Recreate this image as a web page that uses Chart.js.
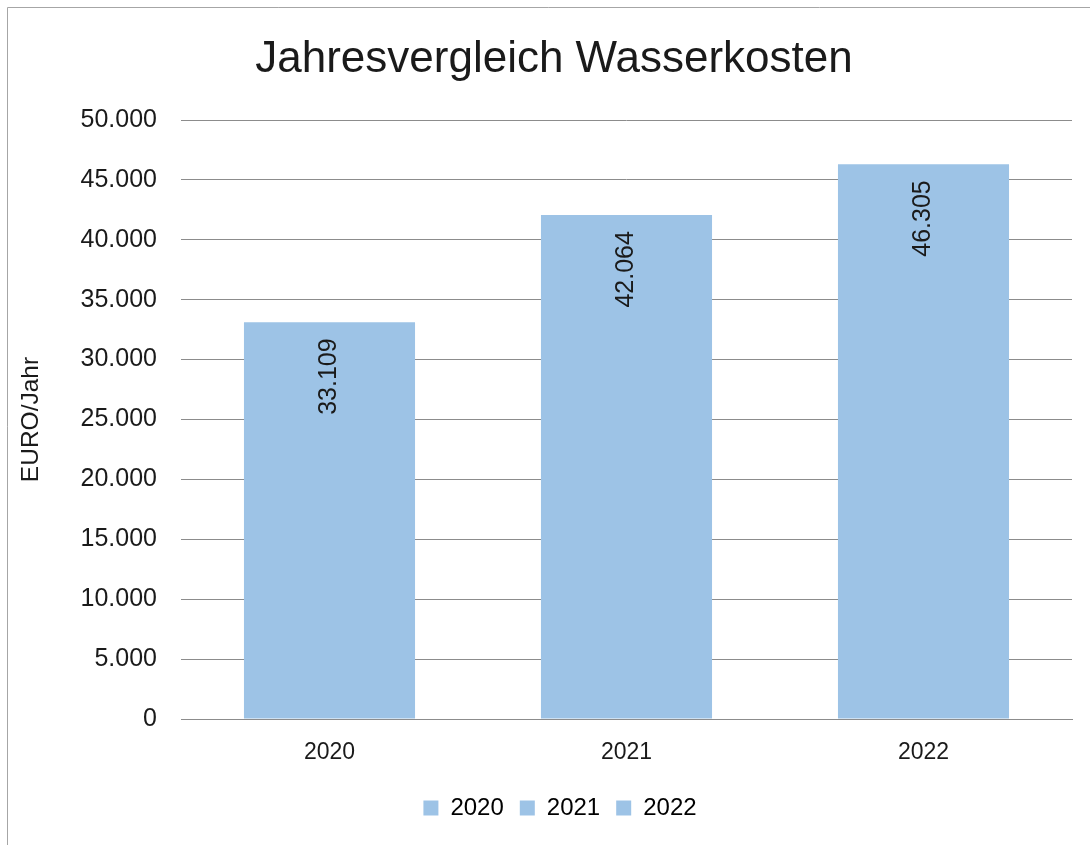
<!DOCTYPE html>
<html>
<head>
<meta charset="utf-8">
<script src="https://cdn.jsdelivr.net/npm/chart.js@4/dist/chart.umd.min.js"></script>
<style>
  html, body { margin: 0; padding: 0; background: #fff; }
  #wrap { position: relative; width: 1090px; height: 845px; }
</style>
</head>
<body>
<div id="wrap"><canvas id="myChart" width="1090" height="845"></canvas></div>
<script>
// data
const years = ['2020', '2021', '2022'];
const kosten = [33109, 42064, 46305];
const yTicks = [0, 5000, 10000, 15000, 20000, 25000, 30000, 35000, 40000, 45000, 50000];
const chartTitle = 'Jahresvergleich Wasserkosten';
const yTitle = 'EURO/Jahr';

const barColor = '#9DC3E6';
const textColor = '#1a1a1a';
const gridColor = '#8c8c8c';
const fontFamily = '"Liberation Sans Narrow", "Liberation Sans", Arial, sans-serif';

Chart.defaults.font.family = fontFamily;
Chart.defaults.color = textColor;

// german thousands separator
function deNum(v) {
  return String(Math.round(v)).replace(/\B(?=(\d{3})+(?!\d))/g, '.');
}

// outer frame (only left + top edge visible) and the chart title
const framePlugin = {
  id: 'frame',
  afterLayout(chart) {
    // legend in the original sits a little right of the canvas centre
    chart.legend.left += 24;
    chart.legend.right += 24;
  },
  beforeDraw(chart) {
    const c = chart.ctx;
    c.save();
    c.fillStyle = '#fff';
    c.fillRect(0, 0, chart.width, chart.height);
    c.strokeStyle = '#a6a6a6';
    c.lineWidth = 1;
    c.beginPath();
    c.moveTo(7.5, chart.height);
    c.lineTo(7.5, 7.5);
    c.lineTo(chart.width, 7.5);
    c.stroke();
    // title sits a bit left of the plot centre, like the original
    c.fillStyle = textColor;
    c.font = '44px ' + fontFamily;
    c.textAlign = 'center';
    c.textBaseline = 'alphabetic';
    c.fillText(chartTitle, 554, 72);
    c.restore();
  }
};

// rotated value labels inside the top of each bar
const valueLabels = {
  id: 'valueLabels',
  afterDatasetsDraw(chart) {
    const c = chart.ctx;
    const meta = chart.getDatasetMeta(0);
    c.save();
    c.fillStyle = textColor;
    c.font = '25px ' + fontFamily;
    c.textAlign = 'right';
    c.textBaseline = 'middle';
    meta.data.forEach(function(bar, i) {
      c.save();
      c.translate(bar.x, bar.y + 16);
      c.rotate(-Math.PI / 2);
      c.fillText(deNum(chart.data.datasets[0].data[i]), 0, 0);
      c.restore();
    });
    c.restore();
  }
};

const ctx = document.getElementById('myChart').getContext('2d');
const myChart = new Chart(ctx, {
  type: 'bar',
  data: {
    labels: years,
    datasets: [{
      label: 'Wasserkosten',
      data: kosten,
      backgroundColor: barColor,
      borderWidth: 0,
      barPercentage: 1,
      categoryPercentage: 0.576
    }]
  },
  options: {
    responsive: false,
    animation: false,
    layout: { padding: { left: 0, right: 18, top: 120, bottom: 15 } },
    scales: {
      x: {
        grid: { display: false, drawTicks: false },
        border: { display: true, color: gridColor, width: 1 },
        ticks: { font: { size: 23 }, color: textColor, padding: 20 },
        afterFit(scale) { scale.height = 61; }
      },
      y: {
        min: 0,
        max: 50000,
        afterBuildTicks(scale) { scale.ticks = yTicks.map(v => ({ value: v })); },
        grid: { color: gridColor, lineWidth: 1, drawTicks: false },
        border: { display: false },
        ticks: {
          font: { size: 25 },
          color: textColor,
          padding: 24,
          callback: v => deNum(v)
        },
        title: {
          display: true,
          text: yTitle,
          font: { size: 24.5 },
          color: textColor,
          padding: { top: 17, bottom: 0 }
        },
        afterFit(scale) { scale.width = 181; }
      }
    },
    plugins: {
      title: { display: false },
      legend: {
        position: 'bottom',
        labels: {
          boxWidth: 15,
          boxHeight: 15,
          padding: 16,
          font: { size: 24 },
          color: textColor,
          generateLabels(chart) {
            return chart.data.labels.map(function(l, i) {
              return { text: l, fillStyle: barColor, strokeStyle: barColor, lineWidth: 0, index: i };
            });
          }
        }
      },
      tooltip: { enabled: false }
    }
  },
  plugins: [framePlugin, valueLabels]
});
</script>
</body>
</html>
